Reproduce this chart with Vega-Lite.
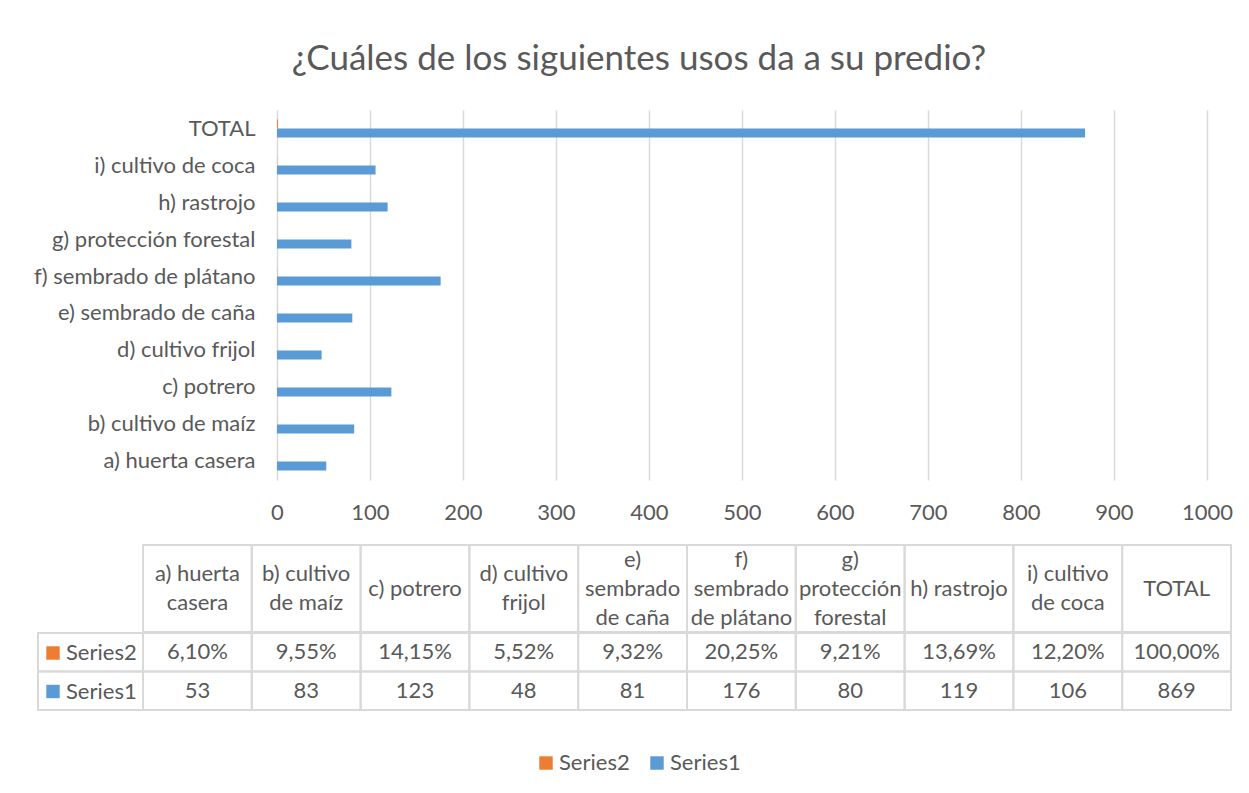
{
  "$schema": "https://vega.github.io/schema/vega-lite/v6.json",
  "padding": {"left": 33, "top": 42, "right": 5, "bottom": 5},
  "background": "white",
  "config": {
    "font": "Lato",
    "view": {"stroke": null},
    "locale": {"number": {"decimal": ",", "thousands": ".", "grouping": [3], "currency": ["", " €"]}},
    "axis": {"labelFont": "Lato", "labelColor": "#595959", "labelFontSize": 22},
    "legend": {"labelFont": "Lato", "labelColor": "#595959", "labelFontSize": 22}
  },
  "title": {"text": "¿Cuáles de los siguientes usos da a su predio?", "font": "Lato", "fontSize": 35, "fontWeight": "normal", "color": "#595959", "anchor": "middle", "offset": 33, "dx": 6},
  "datasets": {
    "uses": [
      {"cat": "a) huerta casera", "head": "a) huerta\ncasera", "series": "Series1", "value": 53},
      {"cat": "b) cultivo de maíz", "head": "b) cultivo\nde maíz", "series": "Series1", "value": 83},
      {"cat": "c) potrero", "head": "c) potrero", "series": "Series1", "value": 123},
      {"cat": "d) cultivo frijol", "head": "d) cultivo\nfrijol", "series": "Series1", "value": 48},
      {"cat": "e) sembrado de caña", "head": "e)\nsembrado\nde caña", "series": "Series1", "value": 81},
      {"cat": "f) sembrado de plátano", "head": "f)\nsembrado\nde plátano", "series": "Series1", "value": 176},
      {"cat": "g) protección forestal", "head": "g)\nprotección\nforestal", "series": "Series1", "value": 80},
      {"cat": "h) rastrojo", "head": "h) rastrojo", "series": "Series1", "value": 119},
      {"cat": "i) cultivo de coca", "head": "i) cultivo\nde coca", "series": "Series1", "value": 106},
      {"cat": "TOTAL", "head": "TOTAL", "series": "Series1", "value": 869},
      {"cat": "a) huerta casera", "head": "a) huerta\ncasera", "series": "Series2", "value": 0.061},
      {"cat": "b) cultivo de maíz", "head": "b) cultivo\nde maíz", "series": "Series2", "value": 0.0955},
      {"cat": "c) potrero", "head": "c) potrero", "series": "Series2", "value": 0.1415},
      {"cat": "d) cultivo frijol", "head": "d) cultivo\nfrijol", "series": "Series2", "value": 0.0552},
      {"cat": "e) sembrado de caña", "head": "e)\nsembrado\nde caña", "series": "Series2", "value": 0.0932},
      {"cat": "f) sembrado de plátano", "head": "f)\nsembrado\nde plátano", "series": "Series2", "value": 0.2025},
      {"cat": "g) protección forestal", "head": "g)\nprotección\nforestal", "series": "Series2", "value": 0.0921},
      {"cat": "h) rastrojo", "head": "h) rastrojo", "series": "Series2", "value": 0.1369},
      {"cat": "i) cultivo de coca", "head": "i) cultivo\nde coca", "series": "Series2", "value": 0.122},
      {"cat": "TOTAL", "head": "TOTAL", "series": "Series2", "value": 1}
    ]
  },
  "bounds": "flush",
  "spacing": 65,
  "resolve": {"legend": {"color": "independent"}},
  "vconcat": [
    {
      "data": {"name": "uses"},
      "width": 1194,
      "height": 370,
      "mark": {"type": "bar"},
      "encoding": {
        "y": {
          "field": "cat", "type": "nominal",
          "sort": ["TOTAL", "i) cultivo de coca", "h) rastrojo", "g) protección forestal", "f) sembrado de plátano", "e) sembrado de caña", "d) cultivo frijol", "c) potrero", "b) cultivo de maíz", "a) huerta casera"],
          "scale": {"paddingInner": 0.5135, "paddingOuter": 0.2568},
          "axis": {"title": null, "orient": "left", "offset": -217, "ticks": false, "tickSize": 0, "domain": false, "labelPadding": 0, "labelLimit": 400, "grid": false}
        },
        "yOffset": {"field": "series", "type": "nominal", "sort": ["Series2", "Series1"], "scale": {"paddingInner": 0, "paddingOuter": 0}},
        "x": {
          "field": "value", "type": "quantitative", "stack": null,
          "scale": {"domain": [-257, 1027], "nice": false, "zero": false},
          "axis": {"title": null, "values": [0, 100, 200, 300, 400, 500, 600, 700, 800, 900, 1000], "format": "d", "grid": true, "gridColor": "#d9d9d9", "gridWidth": 1.5, "domain": false, "ticks": false, "tickSize": 0, "labelPadding": 22}
        },
        "x2": {"datum": 0},
        "color": {
          "field": "series", "type": "nominal",
          "scale": {"domain": ["Series2", "Series1"], "range": ["#ED7D31", "#5B9BD5"]},
          "legend": {"orient": "none", "legendX": 497, "legendY": 642, "direction": "horizontal", "title": null, "padding": 0, "symbolType": "square", "symbolSize": 180, "symbolStrokeWidth": 0, "labelOffset": 2, "columnPadding": 16}
        }
      }
    },
    {
      "bounds": "full",
      "spacing": -2,
      "resolve": {"legend": {"color": "independent"}},
      "vconcat": [
        {
          "bounds": "flush",
          "spacing": 0,
          "hconcat": [
            {"data": {"values": []}, "width": 105, "height": 87, "mark": "point", "encoding": {}},
            {
              "data": {"name": "uses"},
              "transform": [{"filter": "datum.series === 'Series1'"}],
              "width": 1088,
              "height": 87,
              "encoding": {
                "x": {"field": "cat", "type": "nominal",
                  "sort": ["a) huerta casera", "b) cultivo de maíz", "c) potrero", "d) cultivo frijol", "e) sembrado de caña", "f) sembrado de plátano", "g) protección forestal", "h) rastrojo", "i) cultivo de coca", "TOTAL"],
                  "scale": {"paddingInner": 0, "paddingOuter": 0}, "axis": null}
              },
              "layer": [
                {"mark": {"type": "rect", "fill": "transparent", "stroke": "#d9d9d9", "strokeWidth": 2}},
                {"transform": [{"filter": "length(split(datum.head, '\\n')) == 1"}],
                 "mark": {"type": "text", "lineBreak": "\n", "lineHeight": 29, "fontSize": 22, "font": "Lato", "color": "#595959", "baseline": "middle"},
                 "encoding": {"text": {"field": "head"}}},
                {"transform": [{"filter": "length(split(datum.head, '\\n')) == 2"}],
                 "mark": {"type": "text", "lineBreak": "\n", "lineHeight": 29, "fontSize": 22, "font": "Lato", "color": "#595959", "baseline": "middle", "dy": -14.5},
                 "encoding": {"text": {"field": "head"}}},
                {"transform": [{"filter": "length(split(datum.head, '\\n')) == 3"}],
                 "mark": {"type": "text", "lineBreak": "\n", "lineHeight": 29, "fontSize": 22, "font": "Lato", "color": "#595959", "baseline": "middle", "dy": -29},
                 "encoding": {"text": {"field": "head"}}}
              ]
            }
          ]
        },
        {
          "bounds": "flush",
          "spacing": 0,
          "resolve": {"legend": {"color": "independent"}},
          "hconcat": [
            {
              "data": {"name": "uses"},
              "transform": [{"filter": "datum.cat === 'TOTAL'"}],
              "width": 105,
              "height": 77,
              "encoding": {
                "y": {"field": "series", "type": "nominal", "sort": ["Series2", "Series1"], "scale": {"paddingInner": 0, "paddingOuter": 0}, "axis": null}
              },
              "layer": [
                {"mark": {"type": "rect", "fill": "transparent", "stroke": "#d9d9d9", "strokeWidth": 2}},
                {"mark": {"type": "point", "shape": "square", "filled": true, "size": 0},
                 "encoding": {
                   "color": {"field": "series", "type": "nominal",
                     "scale": {"domain": ["Series2", "Series1"], "range": ["#ED7D31", "#5B9BD5"]},
                     "legend": {"orient": "none", "legendX": 4, "legendY": 9, "direction": "vertical", "title": null, "padding": 0, "symbolType": "square", "symbolSize": 180, "symbolOpacity": 1, "symbolStrokeWidth": 0, "labelOffset": 2, "rowPadding": 16.5}}
                 }}
              ]
            },
            {
              "data": {"name": "uses"},
              "width": 1088,
              "height": 77,
              "encoding": {
                "x": {"field": "cat", "type": "nominal",
                  "sort": ["a) huerta casera", "b) cultivo de maíz", "c) potrero", "d) cultivo frijol", "e) sembrado de caña", "f) sembrado de plátano", "g) protección forestal", "h) rastrojo", "i) cultivo de coca", "TOTAL"],
                  "scale": {"paddingInner": 0, "paddingOuter": 0}, "axis": null},
                "y": {"field": "series", "type": "nominal", "sort": ["Series2", "Series1"], "scale": {"paddingInner": 0, "paddingOuter": 0}, "axis": null}
              },
              "layer": [
                {"mark": {"type": "rect", "fill": "transparent", "stroke": "#d9d9d9", "strokeWidth": 2}},
                {"transform": [{"filter": "datum.series === 'Series2'"}],
                 "mark": {"type": "text", "fontSize": 22, "font": "Lato", "color": "#595959", "baseline": "middle"},
                 "encoding": {"text": {"field": "value", "type": "quantitative", "format": ".2%"}}},
                {"transform": [{"filter": "datum.series === 'Series1'"}],
                 "mark": {"type": "text", "fontSize": 22, "font": "Lato", "color": "#595959", "baseline": "middle"},
                 "encoding": {"text": {"field": "value", "type": "quantitative", "format": "d"}}}
              ]
            }
          ]
        }
      ]
    }
  ]
}
